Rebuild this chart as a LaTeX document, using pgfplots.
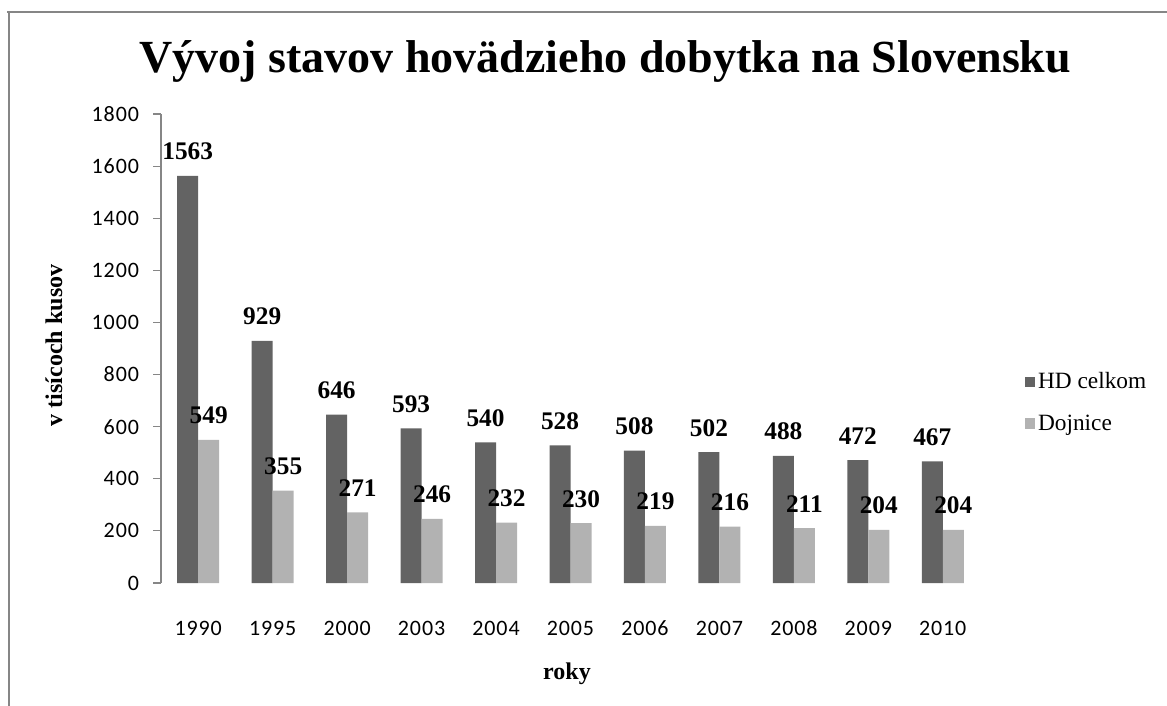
\documentclass[border=0pt]{standalone}
\usepackage{fontspec}
\usepackage{pgfplots}
\pgfplotsset{compat=1.18}
\setmainfont{Liberation Serif}
\newfontfamily\tickfont[LetterSpace=4]{Carlito}

\definecolor{hdcolor}{RGB}{99,99,99}
\definecolor{dojcolor}{RGB}{178,178,178}
\definecolor{axgray}{RGB}{134,134,134}

\begin{document}
\begin{tikzpicture}
\useasboundingbox (0,0) rectangle (875.25pt,-529.5pt);
% chart frame (cut at right and bottom)
\draw[axgray, line width=2.2pt] (6.75pt,-8.6pt) -- (6.75pt,-529.5pt);
\draw[axgray, line width=0.8pt] (5.6pt,-9pt) -- (875.25pt,-9pt);

\begin{axis}[
    at={(120.75pt,-437.25pt)}, anchor=south west,
    scale only axis,
    width=614.25pt, height=351.75pt,
    ybar=0pt, bar width=15.75pt,
    xmin=-0.5, xmax=10.5,
    ymin=0, ymax=1800,
    ytick={0,200,...,1800},
    xtick=data,
    xticklabels={1990,1995,2000,2003,2004,2005,2006,2007,2008,2009,2010},
    axis x line*=bottom, axis y line*=left,
    x axis line style={draw=none},
    y axis line style={axgray, line width=0.8pt},
    xtick style={draw=none},
    ytick style={axgray, line width=0.8pt},
    tick align=outside, major tick length=6pt,
    /pgf/number format/assume math mode=true,
    /pgf/number format/set thousands separator={},
    ticklabel style={font=\tickfont\fontsize{16.5}{16.5}\selectfont, text=black},
    xticklabel style={anchor=base, yshift=-33pt},
    yticklabel style={xshift=-7pt},
    nodes near coords,
    every node near coord/.append style={font=\bfseries\fontsize{19}{19}\selectfont, anchor=base, yshift=12pt},
    legend style={at={(1.05,0.385)}, anchor=west, draw=none, fill=none,
        font=\fontsize{17.5}{17.5}\selectfont, row sep=14pt,
        /tikz/every even column/.append style={column sep=2pt}},
    legend cell align=left,
    legend image code/.code={\fill[#1] (0pt,-3.8pt) rectangle (7.6pt,3.8pt);},
]
\addplot[fill=hdcolor, draw=none] coordinates {
    (0,1563) (1,929) (2,646) (3,593) (4,540) (5,528) (6,508) (7,502) (8,488) (9,472) (10,467)
};
\addlegendentry{HD celkom}
\addplot[fill=dojcolor, draw=none] coordinates {
    (0,549) (1,355) (2,271) (3,246) (4,232) (5,230) (6,219) (7,216) (8,211) (9,204) (10,204)
};
\addlegendentry{Dojnice}
\end{axis}

\node[anchor=base, font=\bfseries\fontsize{34.5}{34.5}\selectfont] at (454pt,-54.5pt)
    {Vývoj stavov hovädzieho dobytka na Slovensku};
\node[anchor=base, rotate=90, font=\bfseries\fontsize{18}{18}\selectfont] at (46.5pt,-259pt)
    {v tisícoch kusov};
\node[anchor=base, font=\bfseries\fontsize{18}{18}\selectfont] at (425.25pt,-509.25pt)
    {roky};
\end{tikzpicture}
\end{document}
